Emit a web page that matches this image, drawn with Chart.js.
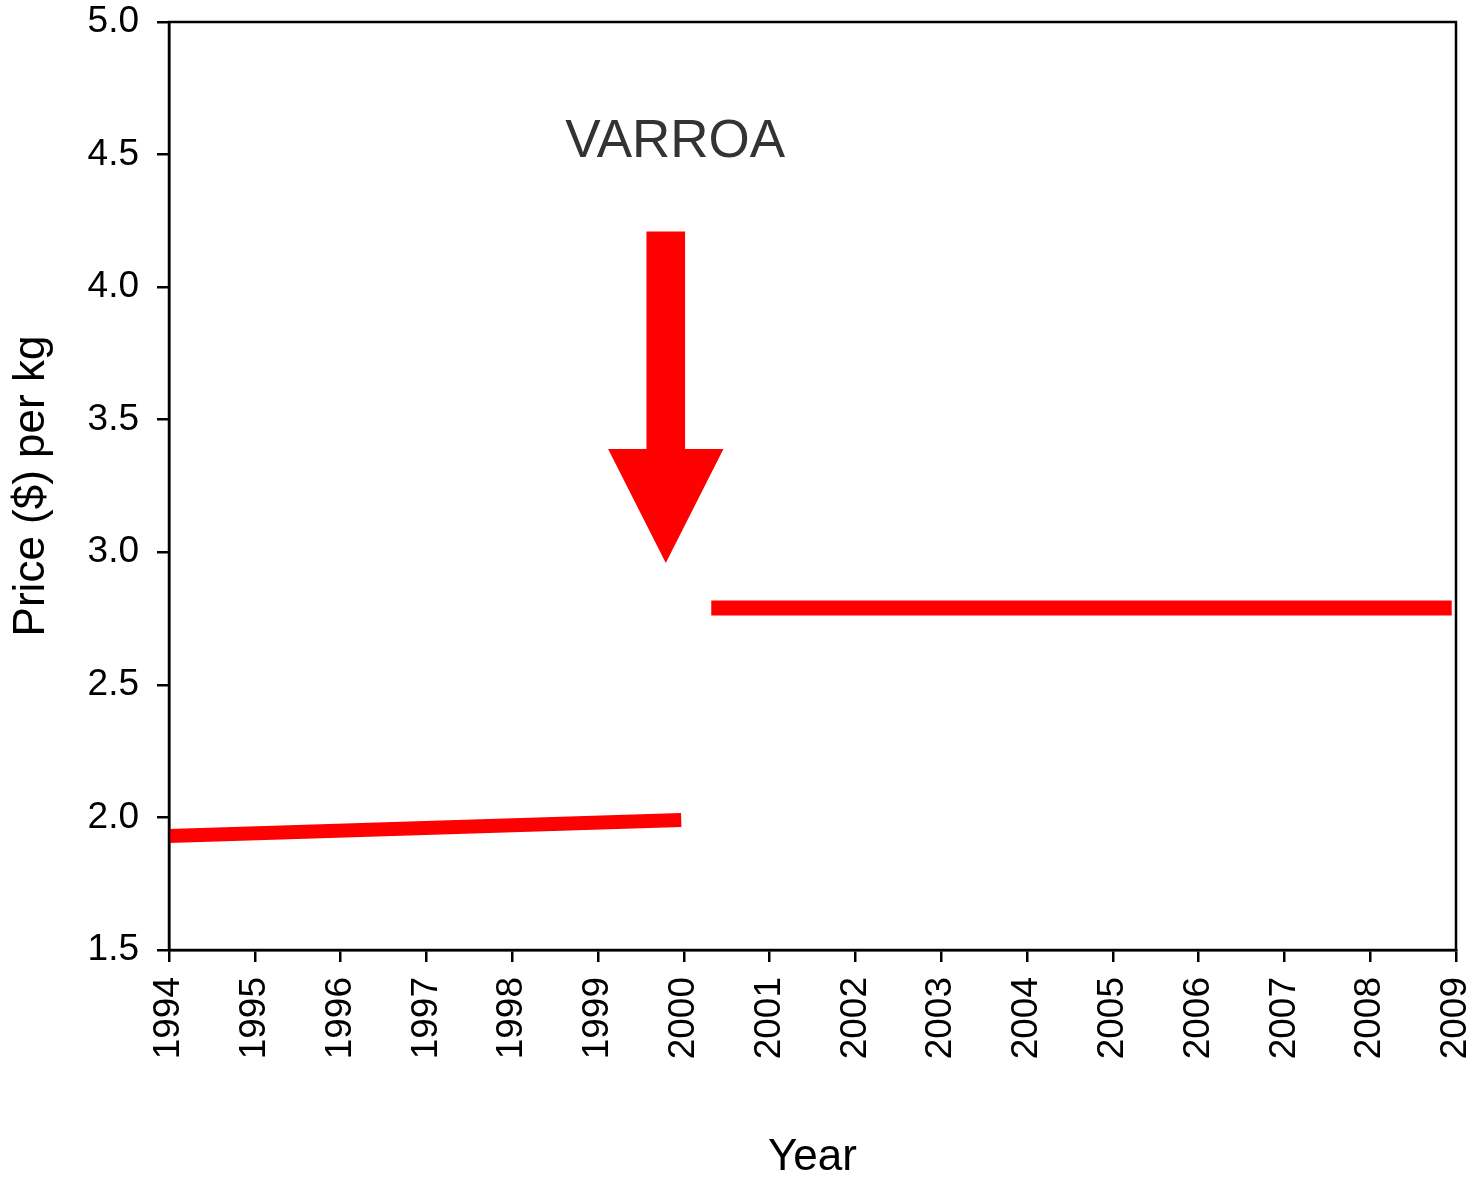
<!DOCTYPE html>
<html>
<head>
<meta charset="utf-8">
<script src="https://cdn.jsdelivr.net/npm/chart.js@4.4.1/dist/chart.umd.min.js"></script>
<style>
  html, body { margin: 0; padding: 0; background: #fff; }
  #wrap { width: 1479px; height: 1180px; }
</style>
</head>
<body>
<div id="wrap"><canvas id="priceChart" width="1479" height="1180"></canvas></div>
<script>
// Price trend before and after varroa arrived
const beforeYears = [1994, 1999.97];
const beforePrice = [1.93, 1.99];
const afterYears = [2000.32, 2008.95];
const afterPrice = [2.79, 2.79];

// arrow outline (year, price), drawn as a filled shape
const arrowYears = [1999.565, 2000.015, 2000.015, 2000.462, 1999.79, 1999.118, 1999.565, 1999.565];
const arrowPrice = [4.21, 4.21, 3.39, 3.39, 2.96, 3.39, 3.39, 4.21];

const noteText = 'VARROA';
const noteYear = 1999.9;
const notePrice = 4.545;

const yTicks = [1.5, 2.0, 2.5, 3.0, 3.5, 4.0, 4.5, 5.0];
const xTicks = [1994, 1995, 1996, 1997, 1998, 1999, 2000, 2001, 2002, 2003, 2004, 2005, 2006, 2007, 2008, 2009];

const toPoints = (xs, ys) => xs.map((x, i) => ({ x: x, y: ys[i] }));

const FONT = 'Liberation Sans, Arial, sans-serif';

// frame round the plot + the annotation text
const framePlugin = {
    id: 'frame',
    afterDatasetsDraw(chart) {
        const ctx = chart.ctx;
        const a = chart.chartArea;
        ctx.save();
        ctx.strokeStyle = '#000';
        ctx.lineWidth = 2.5;
        ctx.strokeRect(a.left, a.top, a.right - a.left, a.bottom - a.top);

        const xs = chart.scales.x, ys = chart.scales.y;
        ctx.fillStyle = '#333';
        ctx.font = '53px ' + FONT;
        ctx.textAlign = 'center';
        ctx.textBaseline = 'middle';
        ctx.fillText(noteText, xs.getPixelForValue(noteYear), ys.getPixelForValue(notePrice));
        ctx.restore();
    }
};

// fixed plot box: drop the label overhang padding chart.js adds
const noPad = s => { s.paddingLeft = 0; s.paddingRight = 0; s.paddingTop = 0; s.paddingBottom = 0; };

const ctx = document.getElementById('priceChart').getContext('2d');
window.myChart = new Chart(ctx, {
    type: 'line',
    data: {
        datasets: [
            {
                data: toPoints(beforeYears, beforePrice),
                borderColor: '#ff0000',
                borderWidth: 14,
                borderCapStyle: 'butt',
                pointRadius: 0,
                fill: false
            },
            {
                data: toPoints(afterYears, afterPrice),
                borderColor: '#ff0000',
                borderWidth: 15,
                borderCapStyle: 'butt',
                pointRadius: 0,
                fill: false
            },
            {
                data: toPoints(arrowYears, arrowPrice),
                borderColor: 'rgba(0,0,0,0)',
                borderWidth: 0,
                backgroundColor: '#ff0000',
                pointRadius: 0,
                fill: 'shape',
                tension: 0
            }
        ]
    },
    options: {
        responsive: false,
        animation: false,
        events: [],
        layout: { padding: { top: 22, right: 23, left: 0, bottom: 0 } },
        plugins: {
            legend: { display: false },
            tooltip: { enabled: false }
        },
        scales: {
            x: {
                type: 'linear',
                min: 1994,
                max: 2009,
                afterBuildTicks: s => { s.ticks = xTicks.map(v => ({ value: v })); },
                afterFit: s => { s.height = 230; noPad(s); },
                grid: { drawOnChartArea: false, drawTicks: true, tickLength: 12, color: '#000', lineWidth: 2.5 },
                border: { display: true, color: '#000', width: 2.5 },
                ticks: {
                    color: '#000',
                    font: { family: FONT, size: 37 },
                    minRotation: 90,
                    maxRotation: 90,
                    padding: 15,
                    autoSkip: false,
                    callback: v => String(v)
                },
                title: {
                    display: true,
                    text: 'Year',
                    color: '#000',
                    font: { family: FONT, size: 44, lineHeight: 1 },
                    padding: { top: 0, bottom: 0 }
                }
            },
            y: {
                min: 1.5,
                max: 5.0,
                afterBuildTicks: s => { s.ticks = yTicks.map(v => ({ value: v })); },
                afterFit: s => { s.width = 169; noPad(s); },
                grid: { drawOnChartArea: false, drawTicks: true, tickLength: 12, color: '#000', lineWidth: 2.5 },
                border: { display: true, color: '#000', width: 2.5 },
                ticks: {
                    color: '#000',
                    font: { family: FONT, size: 37 },
                    padding: 18,
                    callback: v => v.toFixed(1)
                },
                title: {
                    display: true,
                    text: 'Price ($) per kg',
                    color: '#000',
                    font: { family: FONT, size: 44, lineHeight: 1 },
                    padding: { top: 10, bottom: 0 }
                }
            }
        }
    },
    plugins: [framePlugin]
});
</script>
</body>
</html>
